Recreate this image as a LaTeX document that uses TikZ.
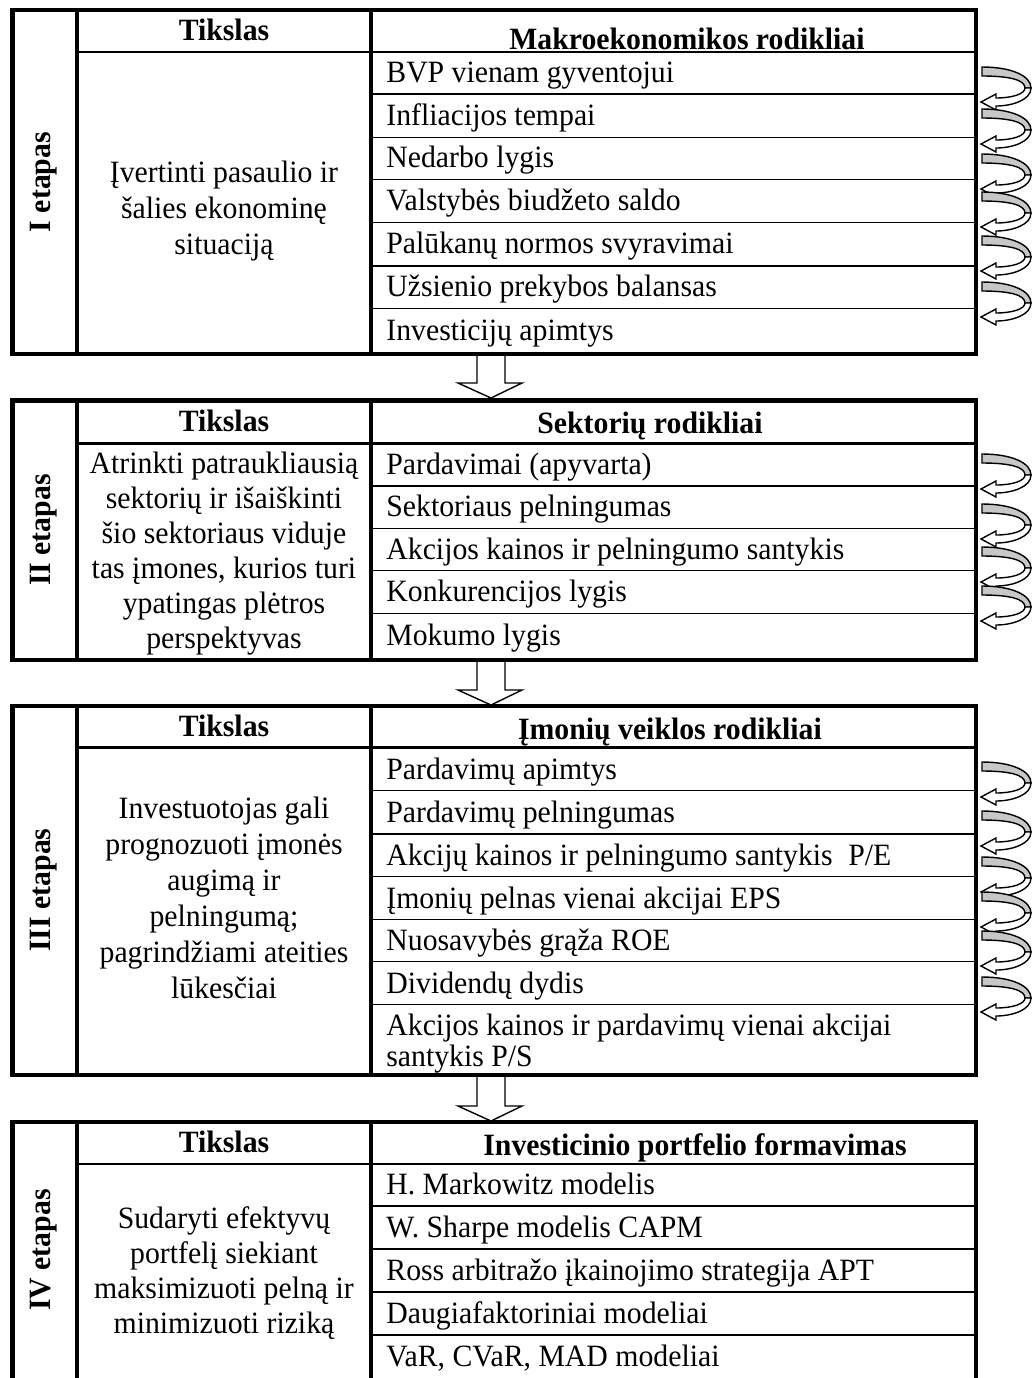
\documentclass[tikz,border=0pt]{standalone}
\usepackage{fontspec}
\setmainfont{Liberation Serif}[FakeStretch=0.96]
\newcommand{\curlarrow}[1]{%
 \begin{scope}[shift={(982,#1)}]
  \filldraw[curlgray] (0,-1) .. controls (30,-1) and (49,8) .. (49,20) -- (43,20) .. controls (43,12) and (28,8) .. (0,8) -- cycle;
  \filldraw[curlwhite] (49,20) .. controls (49,32) and (30,38) .. (14,38) -- (14,42) -- (-1,34) -- (14,26) -- (14,30) .. controls (30,30) and (43,26) .. (43,20) -- cycle;
 \end{scope}}
\newcommand{\downblock}[3]{%
 \draw[blockarr] (#1-14,#2) -- (#1-14,#3-15) -- (#1-33,#3-15) -- (#1,#3) -- (#1+31,#3-15) -- (#1+14,#3-15) -- (#1+14,#2);}
\begin{document}
\begin{tikzpicture}[x=0.5pt,y=-0.5pt,
  outer/.style={line width=2.3pt},
  colline/.style={line width=2pt},
  headline/.style={line width=1.4pt},
  rowline/.style={line width=0.7pt},
  hdr/.style={font=\fontsize{15.5}{19}\bfseries\selectfont, inner sep=0pt},
  item/.style={font=\fontsize{15.5}{19}\selectfont, anchor=base west, inner sep=0pt, align=left},
  goal/.style={font=\fontsize{15.5}{17.5}\selectfont, align=center, inner sep=0pt},
  stage/.style={font=\fontsize{15.5}{19}\bfseries\selectfont, rotate=90, inner sep=0pt},
  curlgray/.style={fill=black!22, draw=black, line width=0.7pt},
  curlwhite/.style={fill=white, draw=black, line width=0.7pt},
  blockarr/.style={fill=white, draw=black, line width=0.7pt}]
\useasboundingbox (0,0) rectangle (1035,1378);
% ---------- Table 1
\draw[outer] (12.5,10) rectangle (976,354);
\draw[colline] (77,10) -- (77,354) (371,10) -- (371,354);
\draw[headline] (77,52) -- (976,52);
\foreach \y in {94,137.3,179.3,222.7,266,308.3} \draw[rowline] (371,\y) -- (976,\y);
\node[stage] (s1) at (44,182) {I etapas};
\node[hdr] (h1a) at (224,30) {Tikslas};
\node[hdr] (h1b) at (687,39) {Makroekonomikos rodikliai};
\node[goal,font=\fontsize{15.5}{18}\selectfont] (g1) at (224,211) {Įvertinti pasaulio ir\\šalies ekonominę\\situaciją};
\node[item] (i11) at (386,82) {BVP vienam gyventojui};
\node[item] (i12) at (386,125) {Infliacijos tempai};
\node[item] (i13) at (386,167) {Nedarbo lygis};
\node[item] (i14) at (386,210) {Valstybės biudžeto saldo};
\node[item] (i15) at (386,253) {Palūkanų normos svyravimai};
\node[item] (i16) at (386,296) {Užsienio prekybos balansas};
\node[item] (i17) at (386,340) {Investicijų apimtys};
\foreach \t in {68,110,155,193,237,283} \curlarrow{\t};
% ---------- arrow 1
\downblock{491}{356}{398}
% ---------- Table 2
\draw[outer] (12.5,400.5) rectangle (976,660);
\draw[colline] (77,400.5) -- (77,660) (371,400.5) -- (371,660);
\draw[headline] (77,443.3) -- (976,443.3);
\foreach \y in {486,528.3,570.7,613.3} \draw[rowline] (371,\y) -- (976,\y);
\node[stage] (s2) at (44,530) {II etapas};
\node[hdr] (h2a) at (224,421) {Tikslas};
\node[hdr] (h2b) at (650,426) {Sektorių rodikliai};
\node[goal] (g2) at (224,554) {Atrinkti patraukliausią\\sektorių ir išaiškinti\\šio sektoriaus viduje\\tas įmones, kurios turi\\ypatingas plėtros\\perspektyvas};
\node[item] (i21) at (386,474) {Pardavimai (apyvarta)};
\node[item] (i22) at (386,516) {Sektoriaus pelningumas};
\node[item] (i23) at (386,559) {Akcijos kainos ir pelningumo santykis};
\node[item] (i24) at (386,601) {Konkurencijos lygis};
\node[item] (i25) at (386,645) {Mokumo lygis};
\foreach \t in {455,505,548,587} \curlarrow{\t};
% ---------- arrow 2
\downblock{491}{662}{705}
% ---------- Table 3
\draw[outer] (12.5,706) rectangle (976,1075);
\draw[colline] (77,706) -- (77,1075) (371,706) -- (371,1075);
\draw[headline] (77,747.7) -- (976,747.7);
\foreach \y in {790.7,834,876.7,919.3,961.7,1004.3} \draw[rowline] (371,\y) -- (976,\y);
\node[stage] (s3) at (44,890) {III etapas};
\node[hdr] (h3a) at (224,726) {Tikslas};
\node[hdr] (h3b) at (670,732) {Įmonių veiklos rodikliai};
\node[goal,font=\fontsize{15.5}{18}\selectfont] (g3) at (224,898) {Investuotojas gali\\prognozuoti įmonės\\augimą ir\\pelningumą;\\pagrindžiami ateities\\lūkesčiai};
\node[item] (i31) at (386,779) {Pardavimų apimtys};
\node[item] (i32) at (386,822) {Pardavimų pelningumas};
\node[item] (i33) at (386,865) {Akcijų kainos ir pelningumo santykis\enspace P/E};
\node[item] (i34) at (386,908) {Įmonių pelnas vienai akcijai EPS};
\node[item] (i35) at (386,950) {Nuosavybės grąža ROE};
\node[item] (i36) at (386,993) {Dividendų dydis};
\node[item] (i37) at (386,1035) {Akcijos kainos ir pardavimų vienai akcijai};
\node[item] (i38) at (386,1066) {santykis P/S};
\foreach \t in {763,812,858,893,932,978} \curlarrow{\t};
% ---------- arrow 3
\downblock{491}{1077}{1121}
% ---------- Table 4
\draw[outer] (12.5,1400) -- (12.5,1122) -- (976,1122) -- (976,1400);
\draw[colline] (77,1122) -- (77,1400) (371,1122) -- (371,1400);
\draw[headline] (77,1164) -- (976,1164);
\foreach \y in {1206,1249,1292,1335} \draw[rowline] (371,\y) -- (976,\y);
\node[stage] (s4) at (44,1250) {IV etapas};
\node[hdr] (h4a) at (224,1142) {Tikslas};
\node[hdr] (h4b) at (695,1148) {Investicinio portfelio formavimas};
\node[goal] (g4) at (224,1273) {Sudaryti efektyvų\\portfelį siekiant\\maksimizuoti pelną ir\\minimizuoti riziką};
\node[item] (i41) at (386,1194) {H. Markowitz modelis};
\node[item] (i42) at (386,1237) {W. Sharpe modelis CAPM};
\node[item] (i43) at (386,1280) {Ross arbitražo įkainojimo strategija APT};
\node[item] (i44) at (386,1323) {Daugiafaktoriniai modeliai};
\node[item] (i45) at (386,1366) {VaR, CVaR, MAD modeliai};
\end{tikzpicture}
\end{document}
